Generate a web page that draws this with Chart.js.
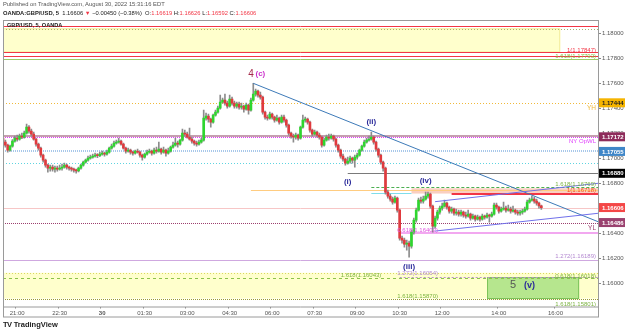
<!DOCTYPE html>
<html>
<head>
<meta charset="utf-8">
<script src="https://cdn.jsdelivr.net/npm/chart.js@4.4.0/dist/chart.umd.min.js"></script>
<style>
  body { margin: 0; background: #fff; }
  #wrap { position: relative; width: 625px; height: 334px; font-family: "Liberation Sans", Arial, sans-serif; overflow: hidden; }
  #chart { position: absolute; left: 0; top: 0; }
  .txt { position: absolute; white-space: nowrap; line-height: 1; z-index: 2; }
  .r { color: #f23645; }
</style>
</head>
<body>
<div id="wrap">
  <canvas id="chart" width="625" height="334"></canvas>
  <div class="txt" style="left:3px;top:2px;font-size:5.8px;color:#555">Published on TradingView.com, August 30, 2022 15:31:16 EDT</div>
  <div class="txt" style="left:3px;top:11px;font-size:5.8px;color:#222"><b>OANDA:GBP/USD, 5</b>&nbsp; 1.16606 <span class="r">▼</span> −0.00450 (−0.38%) &nbsp;O:<span class="r">1.16619</span> H:<span class="r">1.16626</span> L:<span class="r">1.16592</span> C:<span class="r">1.16606</span></div>
  <div class="txt" style="left:7px;top:23px;font-size:5.6px;color:#222;font-weight:bold">GBP/USD, 5, OANDA</div>
  <div class="txt" style="left:3px;top:321px;font-size:7.5px;color:#222;font-weight:bold"><span style="letter-spacing:-0.5px">TV</span> TradingView</div>
</div>
<script>
// 5 minute candles, 20:30 -> 15:30
const opens = [
  1.17162,1.17130,1.17106,1.17066,1.17098,1.17138,1.17162,1.17154,1.17178,1.17170,
  1.17202,1.17250,1.17218,1.17194,1.17154,1.17114,1.17082,1.17026,1.16986,1.16946,
  1.16922,1.16930,1.16914,1.16922,1.16914,1.16922,1.16930,1.16946,1.16930,1.16922,
  1.16914,1.16906,1.16900,1.16922,1.16946,1.16970,1.16986,1.17002,1.17010,1.17018,
  1.17026,1.17022,1.17034,1.17042,1.17034,1.17050,1.17082,1.17098,1.17122,1.17130,
  1.17138,1.17114,1.17082,1.17058,1.17066,1.17050,1.17042,1.17058,1.17050,1.17026,
  1.17010,1.17034,1.17050,1.17058,1.17042,1.17066,1.17058,1.17074,1.17050,1.17066,
  1.17042,1.17058,1.17090,1.17106,1.17122,1.17114,1.17146,1.17202,1.17194,1.17170,
  1.17154,1.17138,1.17122,1.17114,1.17130,1.17146,1.17322,1.17338,1.17314,1.17290,
  1.17346,1.17370,1.17402,1.17450,1.17466,1.17442,1.17418,1.17474,1.17442,1.17418,
  1.17434,1.17410,1.17418,1.17394,1.17426,1.17386,1.17466,1.17514,1.17538,1.17506,
  1.17490,1.17370,1.17330,1.17322,1.17354,1.17330,1.17306,1.17322,1.17290,1.17330,
  1.17306,1.17266,1.17202,1.17178,1.17170,1.17186,1.17162,1.17250,1.17306,1.17314,
  1.17290,1.17226,1.17194,1.17210,1.17186,1.17170,1.17106,1.17146,1.17170,1.17162,
  1.17178,1.17154,1.17106,1.17066,1.17018,1.16994,1.16962,1.16978,1.17002,1.16986,
  1.17010,1.17026,1.17066,1.17098,1.17130,1.17146,1.17154,1.17170,1.17130,1.17074,
  1.17026,1.16970,1.16922,1.16730,1.16698,1.16674,1.16650,1.16682,1.16586,1.16362,
  1.16346,1.16314,1.16322,1.16298,1.16410,1.16506,1.16586,1.16666,1.16658,1.16674,
  1.16698,1.16714,1.16618,1.16458,1.16522,1.16570,1.16602,1.16618,1.16642,1.16610,
  1.16578,1.16594,1.16562,1.16570,1.16554,1.16570,1.16546,1.16538,1.16554,1.16522,
  1.16538,1.16514,1.16530,1.16514,1.16538,1.16530,1.16546,1.16538,1.16554,1.16626,
  1.16610,1.16578,1.16594,1.16602,1.16586,1.16594,1.16578,1.16586,1.16570,1.16562,
  1.16570,1.16578,1.16594,1.16650,1.16666,1.16674,1.16658,1.16642,1.16619
];
const highs = [
  1.17178,1.17146,1.17114,1.17106,1.17150,1.17178,1.17186,1.17194,1.17202,1.17218,
  1.17274,1.17262,1.17234,1.17210,1.17162,1.17122,1.17090,1.17034,1.16994,1.16954,
  1.16946,1.16946,1.16938,1.16938,1.16946,1.16954,1.16962,1.16954,1.16938,1.16930,
  1.16922,1.16914,1.16930,1.16954,1.16978,1.16994,1.17018,1.17026,1.17034,1.17042,
  1.17038,1.17050,1.17058,1.17050,1.17066,1.17090,1.17114,1.17138,1.17146,1.17162,
  1.17146,1.17122,1.17090,1.17082,1.17074,1.17058,1.17066,1.17074,1.17058,1.17034,
  1.17042,1.17066,1.17074,1.17066,1.17082,1.17090,1.17130,1.17082,1.17090,1.17074,
  1.17082,1.17098,1.17130,1.17162,1.17138,1.17154,1.17234,1.17226,1.17210,1.17242,
  1.17170,1.17146,1.17138,1.17146,1.17162,1.17386,1.17362,1.17354,1.17322,1.17354,
  1.17386,1.17418,1.17506,1.17482,1.17514,1.17458,1.17506,1.17490,1.17458,1.17450,
  1.17450,1.17442,1.17426,1.17442,1.17434,1.17482,1.17600,1.17554,1.17546,1.17530,
  1.17498,1.17378,1.17346,1.17370,1.17362,1.17338,1.17346,1.17330,1.17346,1.17346,
  1.17314,1.17274,1.17210,1.17194,1.17202,1.17194,1.17258,1.17346,1.17330,1.17322,
  1.17298,1.17234,1.17226,1.17218,1.17202,1.17178,1.17162,1.17186,1.17194,1.17194,
  1.17186,1.17162,1.17114,1.17074,1.17034,1.17002,1.17010,1.17018,1.17010,1.17026,
  1.17042,1.17074,1.17106,1.17146,1.17162,1.17178,1.17210,1.17178,1.17138,1.17082,
  1.17034,1.16978,1.16930,1.16746,1.16714,1.16690,1.16698,1.16690,1.16594,1.16378,
  1.16362,1.16346,1.16338,1.16426,1.16522,1.16602,1.16682,1.16690,1.16698,1.16730,
  1.16730,1.16722,1.16626,1.16538,1.16586,1.16618,1.16642,1.16666,1.16650,1.16618,
  1.16610,1.16602,1.16594,1.16586,1.16586,1.16578,1.16570,1.16586,1.16562,1.16554,
  1.16546,1.16546,1.16538,1.16554,1.16546,1.16562,1.16554,1.16570,1.16642,1.16642,
  1.16618,1.16610,1.16650,1.16618,1.16626,1.16610,1.16618,1.16594,1.16586,1.16586,
  1.16594,1.16610,1.16666,1.16682,1.16698,1.16690,1.16674,1.16650,1.16626
];
const lows = [
  1.17114,1.17090,1.17050,1.17058,1.17090,1.17130,1.17138,1.17146,1.17158,1.17162,
  1.17194,1.17202,1.17178,1.17146,1.17098,1.17066,1.17010,1.16970,1.16930,1.16890,
  1.16898,1.16898,1.16890,1.16898,1.16906,1.16906,1.16922,1.16914,1.16906,1.16898,
  1.16890,1.16882,1.16892,1.16914,1.16938,1.16962,1.16978,1.16994,1.17002,1.17010,
  1.17006,1.17014,1.17026,1.17018,1.17026,1.17042,1.17074,1.17090,1.17114,1.17122,
  1.17106,1.17074,1.17042,1.17050,1.17034,1.17026,1.17034,1.17042,1.17010,1.16986,
  1.17002,1.17026,1.17042,1.17026,1.17034,1.17042,1.17050,1.17034,1.17042,1.17018,
  1.17034,1.17050,1.17082,1.17098,1.17090,1.17106,1.17138,1.17178,1.17162,1.17146,
  1.17122,1.17106,1.17098,1.17106,1.17122,1.17138,1.17306,1.17290,1.17250,1.17282,
  1.17338,1.17362,1.17394,1.17442,1.17426,1.17402,1.17410,1.17426,1.17402,1.17402,
  1.17394,1.17394,1.17370,1.17386,1.17354,1.17378,1.17458,1.17498,1.17490,1.17474,
  1.17354,1.17314,1.17306,1.17314,1.17314,1.17290,1.17298,1.17274,1.17282,1.17290,
  1.17250,1.17186,1.17162,1.17130,1.17154,1.17146,1.17154,1.17242,1.17290,1.17274,
  1.17210,1.17178,1.17186,1.17170,1.17154,1.17090,1.17098,1.17138,1.17146,1.17154,
  1.17138,1.17090,1.17050,1.17002,1.16978,1.16946,1.16954,1.16962,1.16962,1.16930,
  1.16994,1.17018,1.17058,1.17090,1.17122,1.17138,1.17146,1.17114,1.17058,1.17010,
  1.16954,1.16898,1.16714,1.16682,1.16658,1.16634,1.16642,1.16570,1.16346,1.16322,
  1.16290,1.16266,1.16210,1.16282,1.16394,1.16490,1.16578,1.16642,1.16642,1.16666,
  1.16682,1.16602,1.16410,1.16442,1.16506,1.16554,1.16586,1.16610,1.16594,1.16562,
  1.16562,1.16546,1.16546,1.16538,1.16538,1.16530,1.16522,1.16530,1.16506,1.16514,
  1.16498,1.16506,1.16498,1.16506,1.16514,1.16522,1.16490,1.16530,1.16546,1.16594,
  1.16562,1.16570,1.16586,1.16570,1.16578,1.16562,1.16570,1.16554,1.16546,1.16546,
  1.16554,1.16570,1.16586,1.16642,1.16658,1.16642,1.16626,1.16602,1.16592
];
const closes = [
  1.17130,1.17106,1.17066,1.17098,1.17138,1.17162,1.17154,1.17178,1.17170,1.17202,
  1.17250,1.17218,1.17194,1.17154,1.17114,1.17082,1.17026,1.16986,1.16946,1.16922,
  1.16930,1.16914,1.16922,1.16914,1.16922,1.16930,1.16946,1.16930,1.16922,1.16914,
  1.16906,1.16900,1.16922,1.16946,1.16970,1.16986,1.17002,1.17010,1.17018,1.17026,
  1.17022,1.17034,1.17042,1.17034,1.17050,1.17082,1.17098,1.17122,1.17130,1.17138,
  1.17114,1.17082,1.17058,1.17066,1.17050,1.17042,1.17058,1.17050,1.17026,1.17010,
  1.17034,1.17050,1.17058,1.17042,1.17066,1.17058,1.17074,1.17050,1.17066,1.17042,
  1.17058,1.17090,1.17106,1.17122,1.17114,1.17146,1.17202,1.17194,1.17170,1.17154,
  1.17138,1.17122,1.17114,1.17130,1.17146,1.17322,1.17338,1.17314,1.17290,1.17346,
  1.17370,1.17402,1.17450,1.17466,1.17442,1.17418,1.17474,1.17442,1.17418,1.17434,
  1.17410,1.17418,1.17394,1.17426,1.17386,1.17466,1.17514,1.17538,1.17506,1.17490,
  1.17370,1.17330,1.17322,1.17354,1.17330,1.17306,1.17322,1.17290,1.17330,1.17306,
  1.17266,1.17202,1.17178,1.17170,1.17186,1.17162,1.17250,1.17306,1.17314,1.17290,
  1.17226,1.17194,1.17210,1.17186,1.17170,1.17106,1.17146,1.17170,1.17162,1.17178,
  1.17154,1.17106,1.17066,1.17018,1.16994,1.16962,1.16978,1.17002,1.16986,1.17010,
  1.17026,1.17066,1.17098,1.17130,1.17146,1.17154,1.17170,1.17130,1.17074,1.17026,
  1.16970,1.16922,1.16730,1.16698,1.16674,1.16650,1.16682,1.16586,1.16362,1.16346,
  1.16314,1.16322,1.16298,1.16410,1.16506,1.16586,1.16666,1.16658,1.16674,1.16698,
  1.16714,1.16618,1.16458,1.16522,1.16570,1.16602,1.16618,1.16642,1.16610,1.16578,
  1.16594,1.16562,1.16570,1.16554,1.16570,1.16546,1.16538,1.16554,1.16522,1.16538,
  1.16514,1.16530,1.16514,1.16538,1.16530,1.16546,1.16538,1.16554,1.16626,1.16610,
  1.16578,1.16594,1.16602,1.16586,1.16594,1.16578,1.16586,1.16570,1.16562,1.16570,
  1.16578,1.16594,1.16650,1.16666,1.16674,1.16658,1.16642,1.16619,1.16606
];

// x axis: one slot per 5 minutes from 20:30 to 17:30
const firstSlot = '20:30';
const slotCount = 253;
const tickTimes = ['21:00','22:30','00:00','01:30','03:00','04:30','06:00','07:30','09:00','10:30','12:00','14:00','16:00'];
const tickTexts = ['21:00','22:30','30','01:30','03:00','04:30','06:00','07:30','09:00','10:30','12:00','14:00','16:00'];
const yTicks = [1.160,1.162,1.164,1.166,1.168,1.170,1.172,1.174,1.176,1.178,1.180];

const pad = n => String(n).padStart(2, '0');
const categories = [];
let m0 = parseInt(firstSlot) * 60 + parseInt(firstSlot.slice(3));
for (let i = 0; i < slotCount; i++) {
    const m = (m0 + i * 5) % 1440;
    categories.push(pad(Math.floor(m / 60)) + ':' + pad(m % 60));
}
const slot = t => categories.indexOf(t);
const lastSlot = slotCount - 1;

// horizontal levels: price, colour, width, dash, start/end time
const levels = [
    { p: 1.18058, c: '#f23645', w: 1 },
    { p: 1.18036, c: '#a4b070', w: 1, d: [1, 2] },
    { p: 1.17847, c: '#f23645', w: 1 },
    { p: 1.17821, c: '#f23645', w: 1 },
    { p: 1.17793, c: '#9ccc65', w: 1 },
    { p: 1.17444, c: '#f0b93a', w: 1, d: [1, 2] },
    { p: 1.17182, c: 'rgba(150,80,110,0.55)', w: 2 },
    { p: 1.17172, c: '#e040fb', w: 1, d: [1, 1] },
    { p: 1.17055, c: '#a8c8ea', w: 2, d: [1, 1] },
    { p: 1.16962, c: '#5fd4e0', w: 1, d: [1, 2] },
    { p: 1.16880, c: '#7a7a7a', w: 1, from: '08:40' },
    { p: 1.16769, c: '#4caf50', w: 1, d: [3, 2], from: '09:30' },
    { p: 1.16746, c: '#ffcc80', w: 1, from: '05:15' },
    { p: 1.16722, c: '#80deea', w: 1, from: '09:30', to: '10:55' },
    { p: 1.16718, c: '#f23645', w: 2, from: '12:20' },
    { p: 1.16606, c: '#f7c6c6', w: 1 },
    { p: 1.16486, c: '#9c3f6e', w: 1, d: [1, 1] },
    { p: 1.16402, c: '#f2a8f0', w: 2, from: '10:30' },
    { p: 1.16189, c: '#cfa8e0', w: 1 },
    { p: 1.16084, c: '#d8d860', w: 1, d: [1, 2] },
    { p: 1.16043, c: '#8bc34a', w: 1, d: [3, 3] },
    { p: 1.16054, c: '#b992cc', w: 1, d: [2, 2], from: '10:30' },
    { p: 1.15878, c: '#9a9a30', w: 1, d: [1, 1] }
];
// zones: price range, time range, fill
const zones = [
    { p1: 1.18040, p2: 1.17847, from: '20:30', to: '16:10', fill: '#ffffcc', stroke: '#f3ec9a' },
    { p1: 1.16084, p2: 1.15878, from: '20:30', to: null, fill: '#ffffcc' },
    { p1: 1.16760, p2: 1.16718, from: '10:55', to: null, fill: 'rgba(246,160,130,0.5)' },
    { p1: 1.16050, p2: 1.15874, from: '13:35', to: '16:50', fill: 'rgba(110,205,80,0.5)', stroke: '#7cc35a' }
];
// trend lines: [time, price] -> [time, price]
const trends = [
    { t1: '05:20', p1: 1.17600, t2: null, p2: 1.16493, c: '#3d7ab8' },
    { t1: '11:45', p1: 1.16653, t2: null, p2: 1.16800, c: '#7070ea' },
    { t1: '11:45', p1: 1.16418, t2: null, p2: 1.16560, c: '#7070ea' }
];
// wave labels and level captions
const notes = [
    { t: '4', at: '05:15', p: 1.17674, c: '#a52a4a', s: 10 },
    { t: '(c)', at: '05:35', p: 1.17674, c: '#cc33cc', s: 8, b: true },
    { t: '(ii)', at: '09:30', p: 1.17290, c: '#2a2a9a', s: 8, b: true },
    { t: '(i)', at: '08:40', p: 1.16810, c: '#2a2a9a', s: 8, b: true },
    { t: '(iv)', at: '11:25', p: 1.16818, c: '#2a2a9a', s: 8, b: true },
    { t: '(iii)', at: '10:50', p: 1.16130, c: '#2a2a9a', s: 8, b: true },
    { t: '5', at: '14:30', p: 1.15986, c: '#555555', s: 11 },
    { t: '(v)', at: '15:05', p: 1.15986, c: '#2a2a9a', s: 9, b: true },
    { t: '0.618(1.16402)', at: '10:25', p: 1.16426, c: '#e055e0', s: 6, a: 'left' },
    { t: '1.618(1.16043)', at: '08:25', p: 1.16066, c: '#7cb342', s: 6, a: 'left' },
    { t: '1.272(1.16054)', at: '10:25', p: 1.16078, c: '#b388d0', s: 6, a: 'left' },
    { t: '1.618(1.15870)', at: '10:25', p: 1.15898, c: '#7cb342', s: 6, a: 'left' },
    { t: '1(1.17847)', p: 1.17861, c: '#f23645', s: 6, a: 'right' },
    { t: '1.618(1.17793)', p: 1.17814, c: '#8bc34a', s: 6, a: 'right' },
    { t: 'YH', p: 1.17402, c: '#f0b93a', s: 6.5, a: 'right' },
    { t: 'NY OpWL', p: 1.17138, c: '#e040fb', s: 6, a: 'right' },
    { t: '1.618(1.16769)', p: 1.16794, c: '#7cb342', s: 6, a: 'right' },
    { t: '1(1.16718)', p: 1.16740, c: '#f4511e', s: 6, a: 'right' },
    { t: 'YL', p: 1.16442, c: '#9c3f6e', s: 6.5, a: 'right' },
    { t: '1.272(1.16189)', p: 1.16214, c: '#b388d0', s: 6, a: 'right' },
    { t: '0.618(1.16018)', p: 1.16058, c: '#7cb342', s: 6, a: 'right' },
    { t: '1.618(1.15801)', p: 1.15834, c: '#7cb342', s: 6, a: 'right' }
];
// price tags on the right axis
const tags = [
    { p: 1.17444, bg: '#f5b400', fg: '#222' },
    { p: 1.17172, bg: '#8e2c5b', fg: '#fff' },
    { p: 1.17055, bg: '#3f86c8', fg: '#fff' },
    { p: 1.16880, bg: '#000000', fg: '#fff' },
    { p: 1.16606, bg: '#f44747', fg: '#fff' },
    { p: 1.16486, bg: '#9a416f', fg: '#fff' }
];

const upColor = '#2ed62e';
const downColor = '#e03a3e';
const wickColor = '#8c8c8c';
const FONT = '"Liberation Sans", Arial, sans-serif';

const overlay = {
    id: 'overlay',
    beforeDatasetsDraw(chart) {
        const { ctx, chartArea: a, scales: { x, y } } = chart;
        const sx = t => t === null || t === undefined ? x.getPixelForValue(lastSlot) : x.getPixelForValue(slot(t));
        ctx.save();
        ctx.beginPath();
        ctx.rect(a.left, a.top, a.right - a.left, a.bottom - a.top);
        ctx.clip();
        zones.forEach(z => {
            const x1 = sx(z.from), x2 = sx(z.to);
            const y1 = y.getPixelForValue(z.p1), y2 = y.getPixelForValue(z.p2);
            ctx.fillStyle = z.fill;
            ctx.fillRect(x1, y1, x2 - x1, y2 - y1);
            if (z.stroke) {
                ctx.strokeStyle = z.stroke;
                ctx.lineWidth = 1;
                ctx.strokeRect(x1 + 0.5, y1 + 0.5, x2 - x1 - 1, y2 - y1 - 1);
            }
        });
        levels.forEach(l => {
            const yy = Math.round(y.getPixelForValue(l.p)) + (l.w % 2 ? 0.5 : 0);
            ctx.strokeStyle = l.c;
            ctx.lineWidth = l.w;
            ctx.setLineDash(l.d || []);
            ctx.beginPath();
            ctx.moveTo(l.from ? sx(l.from) : a.left, yy);
            ctx.lineTo(l.to ? sx(l.to) : a.right, yy);
            ctx.stroke();
        });
        ctx.restore();
    },
    afterDatasetsDraw(chart) {
        const { ctx, chartArea: a, scales: { x, y } } = chart;
        ctx.save();
        ctx.beginPath();
        ctx.rect(a.left, a.top, a.right - a.left, a.bottom - a.top);
        ctx.clip();
        ctx.setLineDash([]);
        trends.forEach(t => {
            ctx.strokeStyle = t.c;
            ctx.lineWidth = 1;
            ctx.beginPath();
            ctx.moveTo(x.getPixelForValue(slot(t.t1)), y.getPixelForValue(t.p1));
            ctx.lineTo(x.getPixelForValue(t.t2 ? slot(t.t2) : lastSlot), y.getPixelForValue(t.p2));
            ctx.stroke();
        });
        ctx.restore();
        ctx.save();
        ctx.textBaseline = 'middle';
        notes.forEach(n => {
            ctx.font = (n.b ? 'bold ' : '') + n.s + 'px ' + FONT;
            ctx.fillStyle = n.c;
            let xx;
            if (n.a === 'right') { ctx.textAlign = 'right'; xx = a.right - 2; }
            else if (n.a === 'left') { ctx.textAlign = 'left'; xx = x.getPixelForValue(slot(n.at)); }
            else { ctx.textAlign = 'center'; xx = x.getPixelForValue(slot(n.at)); }
            ctx.fillText(n.t, xx, y.getPixelForValue(n.p));
        });
        ctx.restore();
    },
    afterDraw(chart) {
        const { ctx, chartArea: a, scales: { y } } = chart;
        ctx.save();
        ctx.strokeStyle = '#9a9a9a';
        ctx.lineWidth = 1;
        ctx.strokeRect(a.left + 0.5, a.top + 0.5, a.right - a.left, 296.5);
        ctx.beginPath();
        ctx.moveTo(a.left, a.bottom + 0.5);
        ctx.lineTo(a.right, a.bottom + 0.5);
        ctx.stroke();
        ctx.font = 'bold 6px ' + FONT;
        ctx.textBaseline = 'middle';
        ctx.textAlign = 'left';
        tags.forEach(t => {
            const yy = y.getPixelForValue(t.p);
            ctx.fillStyle = t.bg;
            ctx.fillRect(a.right + 1, yy - 4.5, 27, 9);
            ctx.fillStyle = t.fg;
            ctx.fillText(t.p.toFixed(5), a.right + 4, yy + 0.5);
        });
        ctx.restore();
    }
};

const bodyColors = closes.map((c, i) => c >= opens[i] ? upColor : downColor);

new Chart(document.getElementById('chart'), {
    type: 'bar',
    data: {
        labels: categories,
        datasets: [
            {
                label: 'wick',
                data: lows.map((l, i) => [l, highs[i]]),
                backgroundColor: wickColor,
                barThickness: 1,
                grouped: false,
                order: 2
            },
            {
                label: 'body',
                data: opens.map((o, i) => [o, closes[i]]),
                backgroundColor: bodyColors,
                barThickness: 2,
                minBarLength: 1,
                grouped: false,
                order: 1
            }
        ]
    },
    options: {
        responsive: false,
        animation: false,
        layout: { padding: { left: 3, top: 20, right: 0, bottom: 17 } },
        plugins: { legend: { display: false }, tooltip: { enabled: false } },
        scales: {
            x: {
                offset: false,
                border: { display: false },
                grid: {
                    drawOnChartArea: false,
                    tickLength: 2,
                    color: ctx => tickTimes.includes(categories[ctx.index]) ? '#888' : 'rgba(0,0,0,0)'
                },
                ticks: {
                    autoSkip: false,
                    maxRotation: 0,
                    padding: 1,
                    color: '#555',
                    font: ctx => ({ size: 6, family: FONT, weight: categories[ctx.index] === '00:00' ? 'bold' : 'normal' }),
                    callback: (v, i) => {
                        const k = tickTimes.indexOf(categories[i]);
                        return k >= 0 ? tickTexts[k] : '';
                    }
                },
                afterFit: s => { s.height = 10.5; }
            },
            y: {
                position: 'right',
                min: 1.158144,
                max: 1.181064,
                border: { color: '#9a9a9a' },
                grid: { drawOnChartArea: false, tickLength: 3, color: '#888' },
                ticks: { color: '#555', padding: 1, font: { size: 6, family: FONT }, callback: v => v.toFixed(5) },
                afterBuildTicks: s => { s.ticks = yTicks.map(v => ({ value: v })); },
                afterFit: s => { s.width = 27; }
            }
        }
    },
    plugins: [overlay]
});
</script>
</body>
</html>
